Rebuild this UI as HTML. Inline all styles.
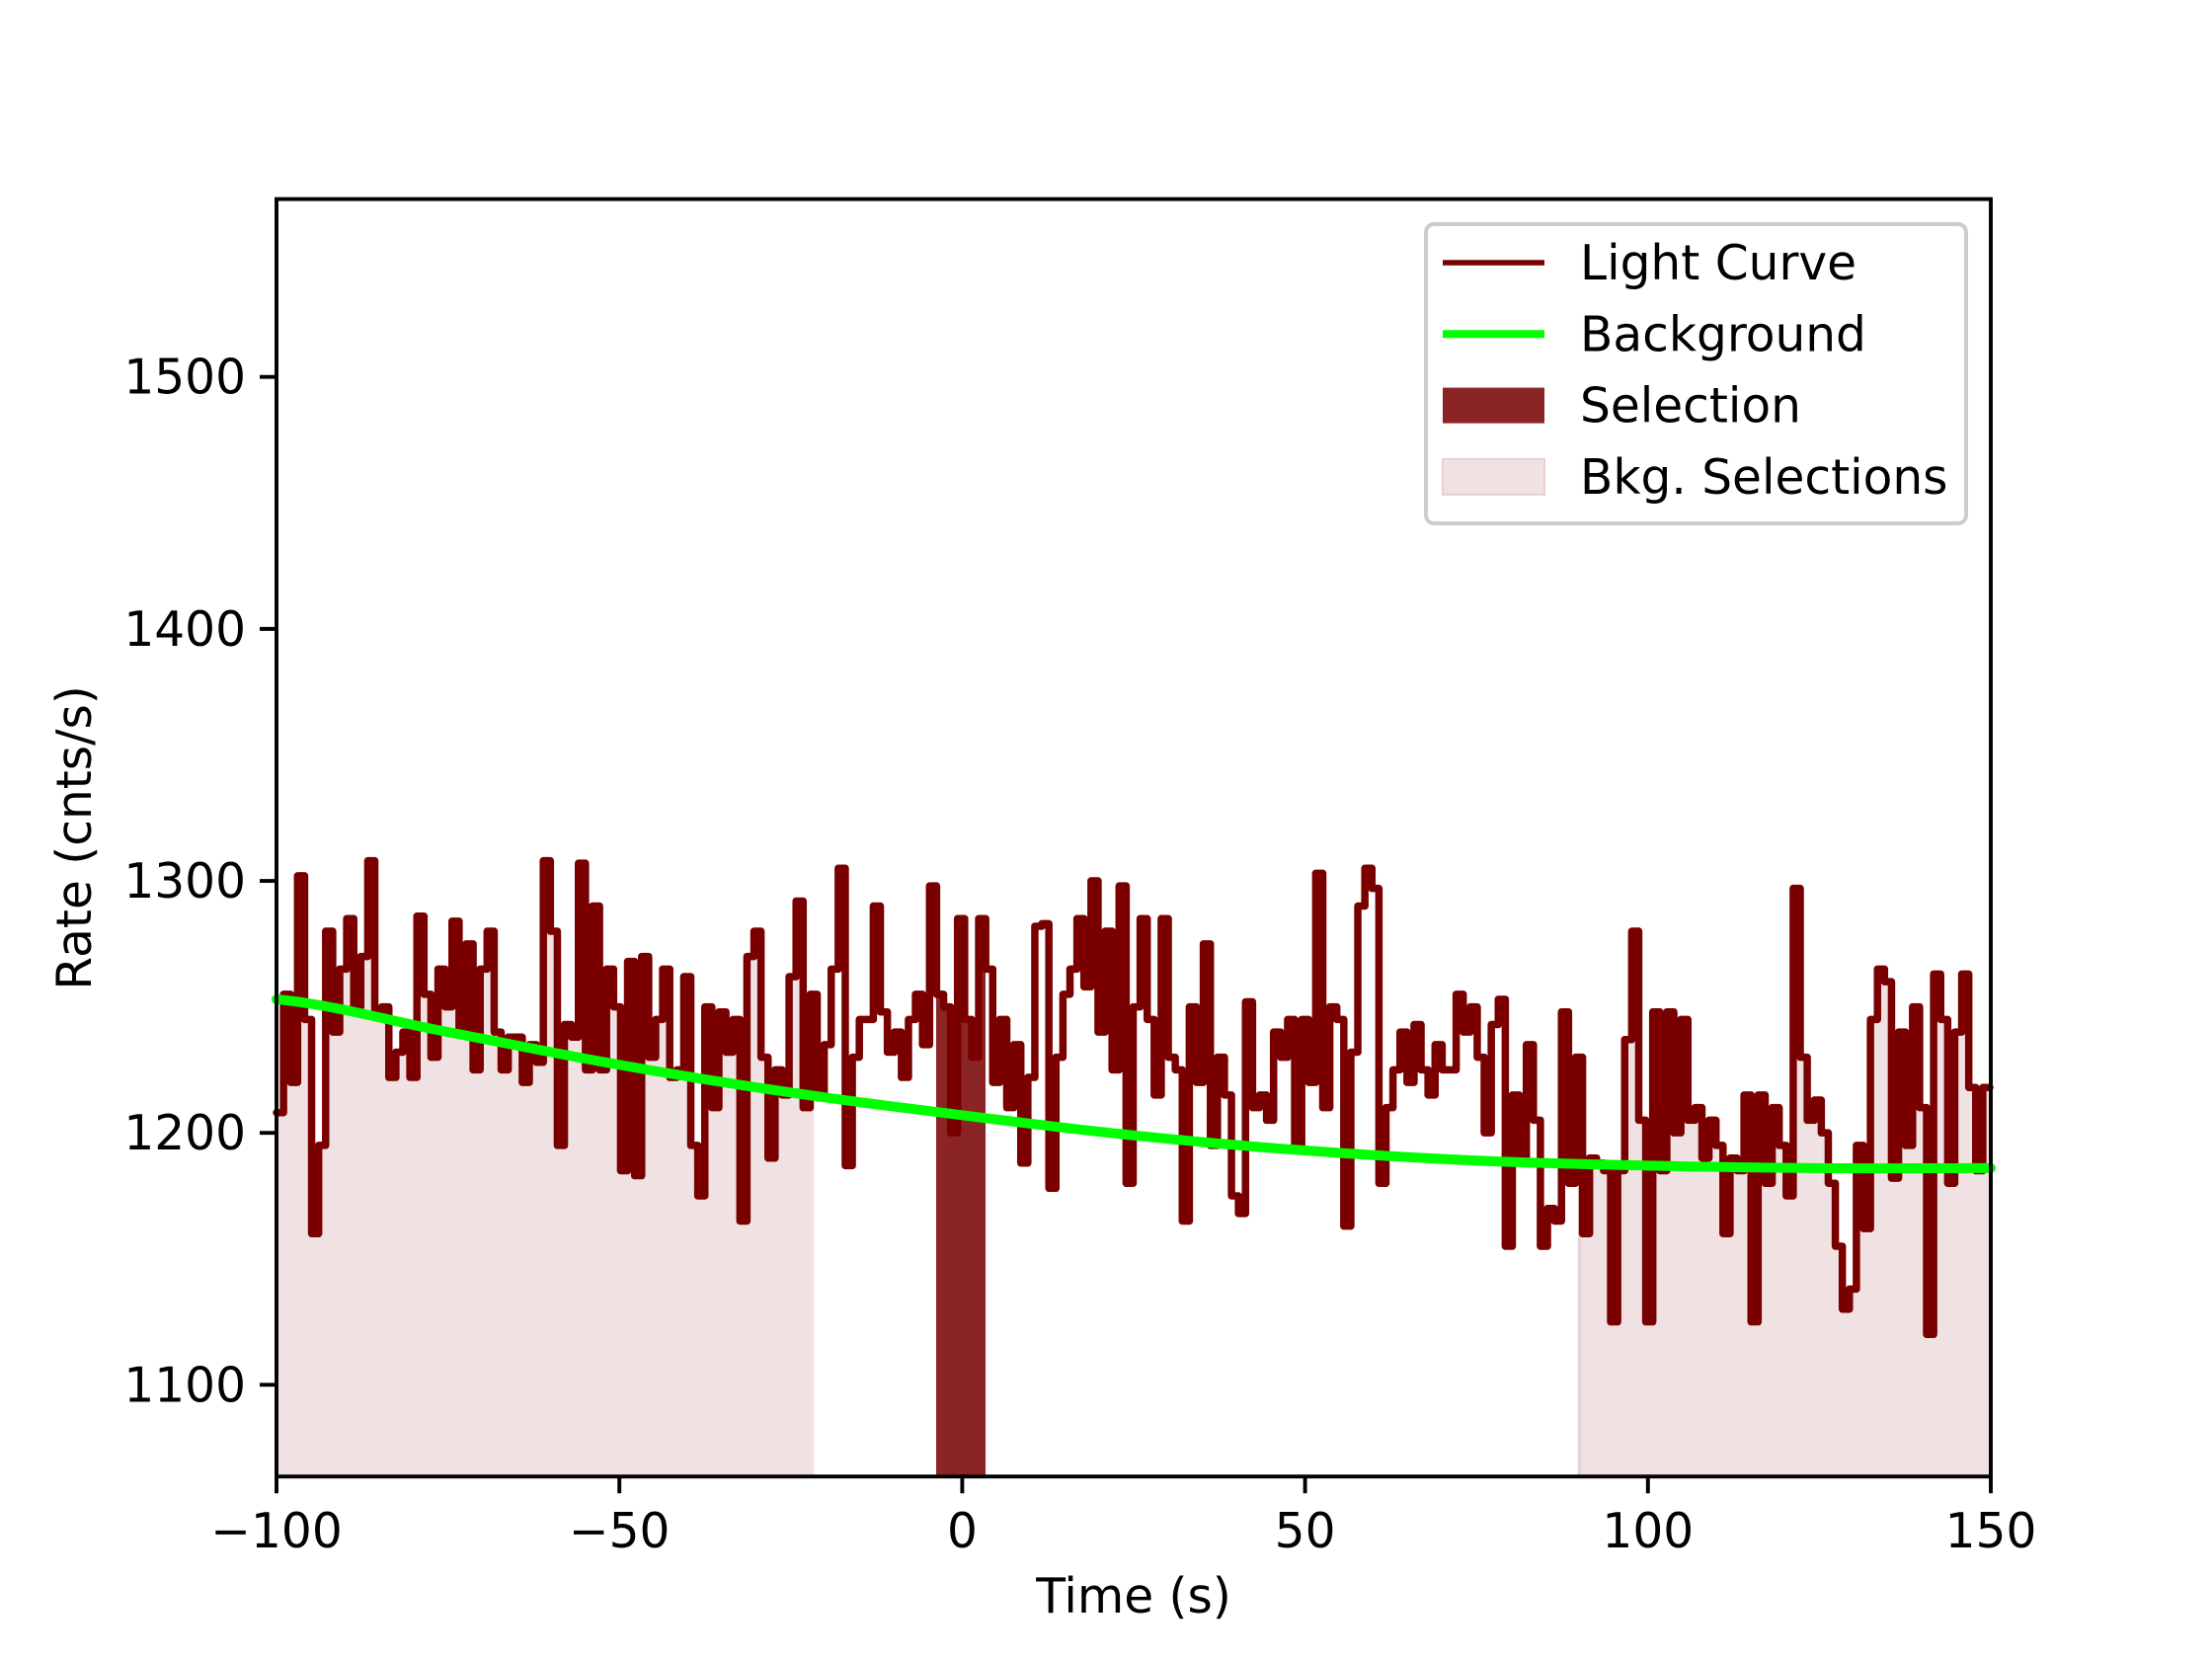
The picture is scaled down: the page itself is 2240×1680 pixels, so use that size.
<!DOCTYPE html>
<html><head><meta charset="utf-8"><style>
html,body{margin:0;padding:0;background:#fff;}
svg{display:block;font-family:"DejaVu Sans","Liberation Sans",sans-serif;}
</style></head><body>
<svg id="chart" width="2240" height="1680" viewBox="0 0 2240 1680" xmlns="http://www.w3.org/2000/svg">
<rect width="2240" height="1680" fill="#fff"/>
<g id="plot"></g>
<g id="axes"></g>
<g id="legend"></g>
</svg>
<script>
const binStart = -100;
const binWidth = 1.024;
const rates = [
1208,1255,1220,1302,1245,1160,1195,1280,1240,1265,
1285,1250,1270,1308,1248,1250,1222,1232,1240,1222,
1286,1255,1230,1265,1250,1284,1240,1275,1225,1265,
1280,1240,1225,1238,1238,1220,1235,1228,1308,1280,
1195,1243,1238,1307,1225,1290,1225,1265,1250,1185,
1268,1183,1270,1230,1245,1265,1222,1225,1262,1195,
1175,1250,1210,1248,1232,1245,1165,1270,1280,1230,
1190,1225,1215,1262,1292,1210,1255,1215,1235,1265,
1305,1187,1230,1245,1245,1290,1248,1232,1240,1222,
1245,1255,1235,1298,1255,1250,1200,1285,1245,1230,
1285,1265,1220,1245,1210,1235,1188,1222,1282,1283,
1178,1230,1255,1265,1285,1258,1300,1240,1280,1225,
1298,1180,1250,1285,1245,1215,1285,1230,1225,1165,
1250,1220,1275,1195,1230,1215,1175,1168,1252,1210,
1215,1205,1240,1230,1245,1195,1245,1220,1303,1210,
1250,1245,1163,1232,1290,1305,1297,1180,1210,1225,
1240,1220,1243,1225,1215,1235,1225,1225,1255,1240,
1250,1230,1200,1243,1253,1155,1215,1190,1235,1205,
1155,1170,1165,1248,1180,1230,1160,1190,1188,1185,
1125,1185,1237,1280,1205,1125,1248,1185,1248,1200,
1245,1205,1210,1190,1205,1195,1160,1190,1185,1215,
1125,1215,1180,1210,1195,1175,1297,1230,1205,1213,
1200,1180,1155,1130,1138,1195,1162,1245,1265,1260,
1182,1240,1195,1250,1210,1120,1263,1245,1180,1240,
1263,1218,1185,1218];
const bgTimes = [-100,-75,-50,-25,0,25,50,75,100,125,150];
const bgRates = [1253,1240,1227,1216,1207,1199,1193,1189,1187,1186,1186];
const bkgIntervals = [[-100,-21.6],[90,150]];
const selInterval = [-3.8,3.4];
const xTicks = [-100,-50,0,50,100,150];
const xTickLabels = ["\u2212100","\u221250","0","50","100","150"];
const yTicks = [1100,1200,1300,1400,1500];
const yTickLabels = ["1100","1200","1300","1400","1500"];

const L=280,R=2016,T=201.6,B=1495.2;
const xMin=-100,xMax=150,yMin=1063.6,yMax=1570.6;
const sx=t=>L+(t-xMin)/(xMax-xMin)*(R-L);
const sy=v=>B-(v-yMin)/(yMax-yMin)*(B-T);
const NS="http://www.w3.org/2000/svg";
function mk(tag,attrs,parent){const e=document.createElementNS(NS,tag);for(const k in attrs)e.setAttribute(k,attrs[k]);parent.appendChild(e);return e;}
const plot=document.getElementById('plot'),axes=document.getElementById('axes'),legend=document.getElementById('legend');

function fillPath(a,b){
  let d='';
  for(let i=0;i<rates.length;i++){
    let t0=binStart+i*binWidth,t1=t0+binWidth;
    let s=Math.max(t0,a),e=Math.min(t1,b);
    if(e<=s)continue;
    d+=`M${sx(s)},${sy(yMin)}L${sx(s)},${sy(rates[i])}L${sx(e)},${sy(rates[i])}L${sx(e)},${sy(yMin)}Z`;
  }
  return d;
}
bkgIntervals.forEach((iv)=>{
  const p=mk('path',{d:fillPath(iv[0],Math.min(iv[1],xMax)),fill:'#f0e2e2',stroke:'none'},plot);
  
  
  const ln=mk('line',{x1:sx(iv[0]),x2:sx(iv[0]),y1:sy(yMin),y2:sy(rates[Math.floor((iv[0]-binStart)/binWidth)]),stroke:'#e6d0d4','stroke-width':3},plot);
  
  
});
const sp=mk('path',{d:fillPath(selInterval[0],selInterval[1]),fill:'#8b2525',stroke:'none'},plot);



let d=`M${sx(binStart)},${sy(rates[0])}`;
for(let i=0;i<rates.length;i++){
  const t1=Math.min(binStart+(i+1)*binWidth,xMax);
  d+=`L${sx(t1)},${sy(rates[i])}`;
  if(i+1<rates.length)d+=`L${sx(t1)},${sy(rates[i+1])}`;
}
const lc=mk('path',{d:d,fill:'none',stroke:'#7a0000','stroke-width':7.5,'stroke-linejoin':'round','stroke-linecap':'round'},plot);



// background: Catmull-Rom through read points
function bgAt(t){
  const n=bgTimes.length;
  let j=Math.min(Math.floor((t-bgTimes[0])/25),n-2);
  const f=(t-bgTimes[j])/(bgTimes[j+1]-bgTimes[j]);
  const p0=bgRates[Math.max(j-1,0)],p1=bgRates[j],p2=bgRates[j+1],p3=bgRates[Math.min(j+2,n-1)];
  return 0.5*((2*p1)+(-p0+p2)*f+(2*p0-5*p1+4*p2-p3)*f*f+(-p0+3*p1-3*p2+p3)*f*f*f);
}
let bd='';
for(let k=0;k<=250;k++){
  const t=xMin+k;
  bd+=(k?'L':'M')+sx(t)+','+sy(bgAt(t));
}
const bg=mk('path',{d:bd,fill:'none',stroke:'#00ff00','stroke-width':10,'stroke-linecap':'round'},plot);



const frame=mk('rect',{x:L,y:T,width:R-L,height:B-T,fill:'none',stroke:'#000','stroke-width':3.9},axes);


xTicks.forEach((v,i)=>{
  const tk=mk('line',{x1:sx(v),x2:sx(v),y1:B,y2:B+17,stroke:'#000','stroke-width':3.9},axes);
  
  
  const tx=mk('text',{x:sx(v),y:B+72,'font-size':48.6,'text-anchor':'middle',fill:'#000'},axes);
  tx.textContent=xTickLabels[i];
  
  
});
yTicks.forEach((v,i)=>{
  const tk=mk('line',{x1:L-17,x2:L,y1:sy(v),y2:sy(v),stroke:'#000','stroke-width':3.9},axes);
  
  
  const tx=mk('text',{x:L-31,y:sy(v)+17,'font-size':48.6,'text-anchor':'end',fill:'#000'},axes);
  tx.textContent=yTickLabels[i];
  
  
});
const xl=mk('text',{x:(L+R)/2,y:1633,'font-size':48.6,'text-anchor':'middle',fill:'#000'},axes);
xl.textContent='Time (s)';


const yl=mk('text',{x:0,y:0,'font-size':48.6,'text-anchor':'middle',fill:'#000',transform:`translate(92,${(T+B)/2}) rotate(-90)`},axes);
yl.textContent='Rate (cnts/s)';



const box=mk('rect',{x:1444,y:227,width:547,height:303,rx:8,fill:'#fff','fill-opacity':0.8,stroke:'#cccccc','stroke-width':3.9},legend);


const ents=[['Light Curve','line','#7a0000',5.5],['Background','line','#00ff00',8],['Selection','rect','#8b2525'],['Bkg. Selections','rect','#f0e2e2']];
ents.forEach((e,i)=>{
  const y=266+i*72.3;
  const g=mk('g',{},legend);
  
  
  if(e[1]==='line'){mk('line',{x1:1461,x2:1564,y1:y,y2:y,stroke:e[2],'stroke-width':e[3]},g);}
  else{mk('rect',{x:1461,y:y-18,width:103,height:36,fill:e[2],stroke:i===3?'#e6d0d4':'none','stroke-width':2},g);}
  const t=mk('text',{x:1600,y:y+17,'font-size':48.6,fill:'#000'},g);
  t.textContent=e[0];
});
</script>
</body></html>
